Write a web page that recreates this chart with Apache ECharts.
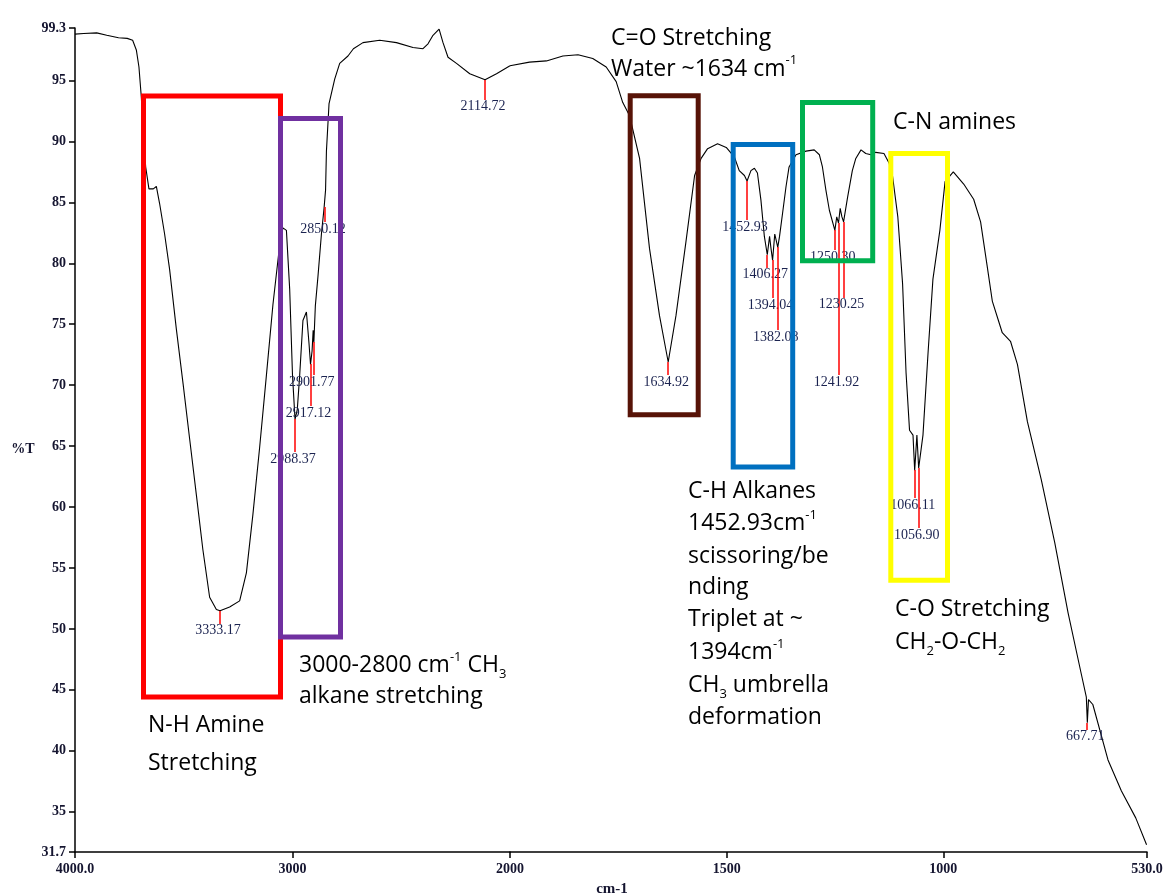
<!DOCTYPE html>
<html><head><meta charset="utf-8">
<script src="https://cdn.jsdelivr.net/npm/echarts@6/dist/echarts.min.js"></script>
<style>html,body{margin:0;padding:0;background:#fff}#c{width:1168px;height:895px}</style>
</head><body><div id="c"></div>
<script>
// ---- spectrum values (wavenumber cm-1, %T) ----
const wavenumber = [4000,3960,3900,3854,3800,3760,3735,3726,3718,3706,3695,3684,3675,3660,3640,3626,3611,3588,3565,3534,3503,3473,3442,3412,3381,3350,3333.17,3289,3243,3212,3182,3151,3120,3090,3059,3044,3028,3013,3000,2988.37,2978,2967,2952,2936,2924,2917.12,2910,2905,2901.77,2895,2883,2867,2855,2850.12,2848,2844,2832,2806,2783,2745,2720,2676,2599,2522,2446,2400,2377,2354,2326,2308,2285,2246,2185,2114.72,2062,2000,
1955,1916,1878,1843,1809,1778,1755,1740,1724,1701,1678,1655,1634.92,1617,1594,1574,1559,1544,1540,1521,1501,1482,1471,1459,1452.93,1444,1436,1429,1421,1413,1406.27,1401,1398,1394.04,1389,1382.08,1378,1371,1363,1356,1340,1317,1298,1286,1279,1271,1263,1250.30,1246,1241.92,1238,1234,1230.25,1221,1210,1202,1190,1179,1167,1156,1137,1125,1117,1105,1094,1086,1078,1070,1066.11,1061,1056.90,1047,1035,1024,1008,996,977,953,930,914,899,887,872,864,845,829,806,774,743,712,681,670,667.71,665,655,620,589,556,531];
const transmittance = [98.8,98.85,98.9,98.7,98.5,98.45,98.3,98.2,97.5,96.1,93.6,90.1,87.9,86.1,86.1,86.3,84.9,82.4,79.5,74.6,70.1,65.6,61.0,56.5,52.6,51.6,51.5,51.8,52.3,54.6,59.4,64.9,70.8,76.6,81.5,82.9,82.7,77.9,70.8,67.2,68.0,70.8,75.3,76.0,73.4,71.7,72.8,74.5,73.5,76.5,78.9,82.4,84.5,84.6,86.0,89.2,93.1,95.1,96.4,97.0,97.6,98.1,98.3,98.1,97.7,97.6,98.0,98.7,99.2,98.1,96.9,96.4,95.55,95.05,95.55,96.2,
96.5,96.6,97.0,97.1,96.8,96.1,94.9,93.2,92.1,88.6,81.2,75.7,71.9,75.7,81.75,87.2,88.6,89.4,89.3,89.8,89.5,88.7,87.6,87.2,86.75,87.6,87.8,87.4,85.2,82.2,80.7,82.2,81.3,80.25,82.4,81.3,82.2,84.1,86.3,87.9,88.9,89.2,89.3,88.9,87.9,86.0,84.35,82.7,83.8,83.3,84.5,83.8,83.4,85.4,87.6,88.6,89.3,89.0,88.9,89.1,89.0,88.2,87.1,83.8,78.3,71.0,66.3,65.9,63.0,65.9,63.2,65.9,72.8,78.7,82.7,86.7,87.5,86.5,85.25,83.4,79.8,76.9,75.2,74.3,73.6,71.7,67.0,62.25,57.1,51.3,46.2,44.4,42.3,44.2,43.8,39.25,36.7,34.5,32.3];

// ---- labelled peaks ----
const peakWavenumber = [3333.17,2988.37,2917.12,2901.77,2850.12,2114.72,1634.92,1452.93,1406.27,1394.04,1382.08,1250.30,1241.92,1230.25,1066.11,1056.90,667.71];
const peakTransmittance = [51.5,67.2,71.7,73.5,84.6,95.05,71.9,86.75,80.7,80.25,81.3,82.7,83.3,83.4,63.0,63.2,42.3];

// ---- tick labels ----
const yTickValues = [31.7,35,40,45,50,55,60,65,70,75,80,85,90,95,99.3];
const xTicksHigh = [4000,3000,2000];
const xTicksLow = [1500,1000,530];
const xTickText = {4000:'4000.0',3000:'3000',2000:'2000',1500:'1500',1000:'1000',530:'530.0'};

// ---- layout only (pixels): leader-line lengths for the peak labels ----
const peakLeaderPx = [13,33,42,33,15,20,13,39,13,38,83,20,152,76,28,60,7];

const spectrum = wavenumber.map((w,i)=>[w, transmittance[i]]);
const highPart = spectrum.filter(p=>p[0]>=2000);
const lowPart = spectrum.filter(p=>p[0]<=2000);
const peaks = peakWavenumber.map((w,i)=>[w, peakTransmittance[i], i]);

const labelFont = '14px "Liberation Serif", "DejaVu Serif", serif';
function peakRender(params, api){
  const i = api.value(2);
  const p = api.coord([api.value(0), api.value(1)]);
  const len = peakLeaderPx[i];
  const lx = Math.round(p[0]);
  return {type:'group', children:[
    {type:'line', shape:{x1:lx,y1:Math.round(p[1]),x2:lx,y2:Math.round(p[1]+len)}, style:{stroke:'#ff0000', lineWidth:1.5}},
    {type:'text', x:p[0]-2, y:p[1]+len+7, style:{text:peakWavenumber[i].toFixed(2), fill:'#1b2350', font:labelFont, align:'center', verticalAlign:'middle'}}
  ]};
}

const annFont = '"Open Sans", Lato, sans-serif';
const rich = {
  n:{fontFamily:annFont, fontSize:23, lineHeight:30, color:'#000'},
  sup:{fontFamily:annFont, fontSize:13, lineHeight:19, verticalAlign:'top', color:'#000'},
  sub:{fontFamily:annFont, fontSize:13, lineHeight:18, verticalAlign:'bottom', color:'#000'}
};
function ann(x, baseline, txt){
  return {type:'text', x:x, y:baseline-7.5, z:50, style:{text:txt, rich:rich, align:'left', verticalAlign:'middle'}};
}
function box(x,y,w,h,color){
  return {type:'rect', z:40, shape:{x:x,y:y,width:w,height:h}, style:{fill:'none', stroke:color, lineWidth:5}};
}

const axisTxt = {color:'#151530', fontFamily:'"Liberation Serif", serif', fontSize:14, fontWeight:'bold'};

const chart = echarts.init(document.getElementById('c'), null, {renderer:'canvas'});
chart.setOption({
  animation:false,
  backgroundColor:'#fff',
  grid:[
    {left:75, top:28, width:435, height:824, outerBoundsMode:'none'},
    {left:510, top:28, width:637, height:824, outerBoundsMode:'none'}
  ],
  xAxis:[
    {gridIndex:0, type:'value', min:2000, max:4000, inverse:true,
     axisLine:{lineStyle:{color:'#000', width:1.5}},
     axisTick:{customValues:xTicksHigh, length:6, lineStyle:{color:'#000', width:1.5}},
     axisLabel:Object.assign({customValues:xTicksHigh, margin:10, formatter:v=>xTickText[v]}, axisTxt),
     splitLine:{show:false}},
    {gridIndex:1, type:'value', min:530, max:2000, inverse:true,
     axisLine:{lineStyle:{color:'#000', width:1.5}},
     axisTick:{customValues:xTicksLow, length:6, lineStyle:{color:'#000', width:1.5}},
     axisLabel:Object.assign({customValues:xTicksLow, margin:10, formatter:v=>xTickText[v]}, axisTxt),
     splitLine:{show:false}}
  ],
  yAxis:[
    {gridIndex:0, type:'value', min:31.7, max:99.3,
     axisLine:{show:true, lineStyle:{color:'#000', width:1.5}},
     axisTick:{show:true, customValues:yTickValues, length:6, lineStyle:{color:'#000', width:1.5}},
     axisLabel:Object.assign({customValues:yTickValues, margin:9, formatter:v=>String(v)}, axisTxt),
     splitLine:{show:false}},
    {gridIndex:1, type:'value', min:31.7, max:99.3, show:false, splitLine:{show:false}}
  ],
  series:[
    {type:'line', xAxisIndex:0, yAxisIndex:0, data:highPart, showSymbol:false, symbol:'none', lineStyle:{color:'#000', width:1.1}, z:2},
    {type:'line', xAxisIndex:1, yAxisIndex:1, data:lowPart, showSymbol:false, symbol:'none', lineStyle:{color:'#000', width:1.1}, z:2},
    {type:'custom', xAxisIndex:0, yAxisIndex:0, data:peaks.filter(p=>p[0]>2000), renderItem:peakRender, clip:false, z:3},
    {type:'custom', xAxisIndex:1, yAxisIndex:1, data:peaks.filter(p=>p[0]<2000), renderItem:peakRender, clip:false, z:3}
  ],
  graphic:[
    {type:'text', x:612, y:889, style:{text:'cm-1', font:'bold 15px "Liberation Serif", serif', fill:'#151530', align:'center', verticalAlign:'middle'}},
    {type:'text', x:23, y:449, style:{text:'%T', font:'bold 14px "Liberation Serif", serif', fill:'#151530', align:'center', verticalAlign:'middle'}},
    box(143.5,96,137,601,'#ff0000'),
    box(280.5,118.5,60,518.5,'#7030a0'),
    box(630.2,95.8,68,319,'#571307'),
    box(733.2,144.5,59.5,322.5,'#0070c0'),
    box(802.5,102.5,70.2,158.3,'#00b050'),
    box(890.8,153.5,56.7,426.8,'#ffff00'),
    ann(611,45.7,'{n|C=O Stretching}'),
    ann(611,76.7,'{n|Water ~1634 cm}{sup|-1}'),
    ann(893,130,'{n|C-N amines}'),
    ann(688,499,'{n|C-H Alkanes}'),
    ann(688,531,'{n|1452.93cm}{sup|-1}'),
    ann(688,564,'{n|scissoring/be}'),
    ann(688,595,'{n|nding}'),
    ann(688,627,'{n|Triplet at ~}'),
    ann(688,660,'{n|1394cm}{sup|-1}'),
    ann(688,693,'{n|CH}{sub|3}{n| umbrella}'),
    ann(688,725,'{n|deformation}'),
    ann(895,617,'{n|C-O Stretching}'),
    ann(895,650,'{n|CH}{sub|2}{n|-O-CH}{sub|2}'),
    ann(148,733,'{n|N-H Amine}'),
    ann(148,771,'{n|Stretching}'),
    ann(299,673,'{n|3000-2800 cm}{sup|-1}{n| CH}{sub|3}'),
    ann(299,704,'{n|alkane stretching}')
  ]
});
</script></body></html>
